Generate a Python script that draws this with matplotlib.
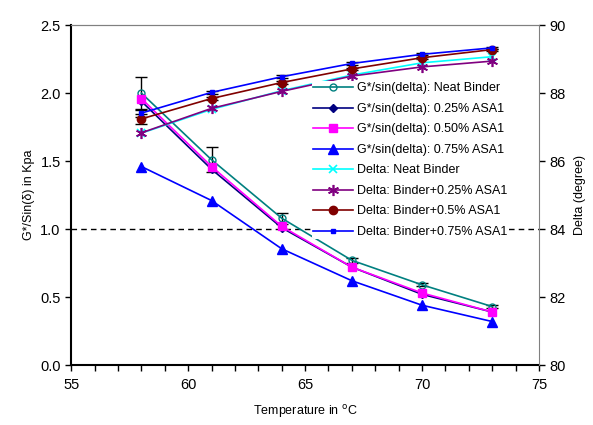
import matplotlib
matplotlib.use("Agg")
import matplotlib.pyplot as plt
from matplotlib.ticker import MultipleLocator, FormatStrFormatter

plt.rcParams["font.family"] = ["Liberation Sans", "DejaVu Sans"]

# data
temp = [58, 61, 64, 67, 70, 73]

g_neat = [2.00, 1.51, 1.08, 0.77, 0.59, 0.43]
g_025 = [1.94, 1.44, 1.01, 0.72, 0.52, 0.39]
g_050 = [1.96, 1.46, 1.02, 0.72, 0.53, 0.39]
g_075 = [1.46, 1.21, 0.855, 0.62, 0.44, 0.32]
g_neat_err = [0.12, 0.09, 0.04, 0.02, 0.01, 0.01]

d_neat = [86.82, 87.52, 88.07, 88.53, 88.89, 89.07]
d_025 = [86.83, 87.55, 88.05, 88.50, 88.77, 88.94]
d_050 = [87.24, 87.84, 88.31, 88.71, 89.04, 89.28]
d_075 = [87.41, 88.02, 88.48, 88.87, 89.14, 89.33]
d_050_err = [0.15, 0.05, 0.05, 0.04, 0.03, 0.03]
d_075_err = [0.10, 0.05, 0.04, 0.03, 0.03, 0.03]

fig = plt.figure(figsize=(5.93, 4.25), dpi=100)
ax = fig.add_axes([0.12, 0.141, 0.789, 0.8])
ax2 = ax.twinx()

ax.axhline(1.0, color="black", lw=1, ls=(0, (4, 3)), zorder=1)

ax.errorbar(temp, g_neat, yerr=g_neat_err, fmt="none", ecolor="black",
            elinewidth=1, capsize=4, capthick=1, zorder=2)
ax2.errorbar(temp, d_050, yerr=d_050_err, fmt="none", ecolor="black",
             elinewidth=1, capsize=4, capthick=1, zorder=2)
ax2.errorbar(temp, d_075, yerr=d_075_err, fmt="none", ecolor="black",
             elinewidth=1, capsize=4, capthick=1, zorder=2)

l1, = ax.plot(temp, g_neat, color="#008080", lw=1.2, marker="o", ms=5,
              mfc="none", mec="#008080", mew=1, label="G*/sin(delta): Neat Binder")
l2, = ax.plot(temp, g_025, color="#000080", lw=1.2, marker="D", ms=4.5,
              label="G*/sin(delta): 0.25% ASA1")
l3, = ax.plot(temp, g_050, color="#FF00FF", lw=1.2, marker="s", ms=6,
              label="G*/sin(delta): 0.50% ASA1")
l4, = ax.plot(temp, g_075, color="#0000FF", lw=1.2, marker="^", ms=6.5,
              label="G*/sin(delta): 0.75% ASA1")

l5, = ax2.plot(temp, d_neat, color="#00FFFF", lw=1.2, marker="x", ms=6,
               mew=1.2, label="Delta: Neat Binder")
l6, = ax2.plot(temp, d_025, color="#800080", lw=1.2, marker=(6, 2, 0), ms=8,
               mew=1.2, label="Delta: Binder+0.25% ASA1")
l7, = ax2.plot(temp, d_050, color="#800000", lw=1.2, marker="o", ms=6,
               label="Delta: Binder+0.5% ASA1")
l8, = ax2.plot(temp, d_075, color="#0000FF", lw=1.2, marker="s", ms=3,
               label="Delta: Binder+0.75% ASA1")

ax.set_xlim(55, 75)
ax.set_ylim(0, 2.5)
ax2.set_ylim(80, 90)
ax.xaxis.set_major_locator(MultipleLocator(5))
ax.xaxis.set_minor_locator(MultipleLocator(1))
ax.yaxis.set_major_locator(MultipleLocator(0.5))
ax.yaxis.set_major_formatter(FormatStrFormatter("%.1f"))
ax2.yaxis.set_major_locator(MultipleLocator(2))

ax.tick_params(axis="both", which="both", direction="out", length=4,
               width=1, labelsize=10.5)
ax2.tick_params(axis="y", direction="out", length=4, width=1, labelsize=10.5)
ax.tick_params(axis="x", pad=5)

for s in ["left", "bottom"]:
    ax.spines[s].set_linewidth(1.5)
    ax2.spines[s].set_visible(False)
ax2.spines["top"].set_color("#808080")
ax2.spines["right"].set_color("#808080")
ax.spines["top"].set_color("#808080")
ax.spines["right"].set_visible(False)

ax.set_xlabel("Temperature in $^{\\mathrm{o}}$C", fontsize=9, labelpad=8)
ax.set_ylabel("G*/Sin(\u03b4) in Kpa", fontsize=9)
ax2.set_ylabel("Delta (degree)", fontsize=9, labelpad=6)

leg = ax2.legend(handles=[l1, l2, l3, l4, l5, l6, l7, l8], loc="upper left",
                 bbox_to_anchor=(0.515, 0.835), fontsize=9, frameon=True,
                 framealpha=1, edgecolor="none", facecolor="white",
                 handlelength=3.2, handletextpad=0.3, labelspacing=0.68,
                 borderpad=0.1, borderaxespad=0)

fig.savefig("out.png", dpi=100)
